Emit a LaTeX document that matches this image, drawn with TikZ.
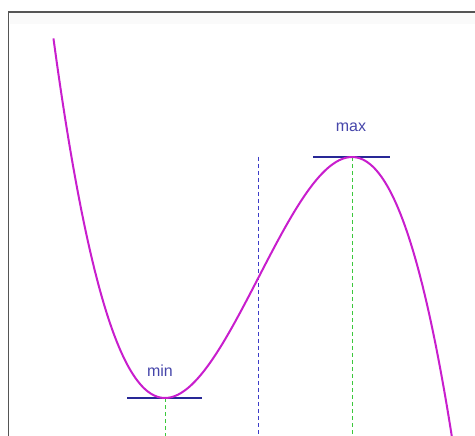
\documentclass[tikz,border=0pt]{standalone}
\usepackage{fontspec}
\setmainfont{Liberation Sans}
\definecolor{curvecol}{RGB}{200,30,205}
\definecolor{tancol}{RGB}{40,40,150}
\definecolor{labcol}{RGB}{70,70,170}
\definecolor{greendash}{RGB}{60,200,60}
\definecolor{bluedash}{RGB}{60,60,200}
\definecolor{framecol}{RGB}{85,85,85}
\tikzset{
  curveline/.style={curvecol, line width=2pt},
  tangent/.style={tancol, line width=1.3pt},
  greenguide/.style={greendash, line width=0.9pt, dash pattern=on 4pt off 3pt},
  blueguide/.style={bluedash, line width=0.9pt, dash pattern=on 4pt off 3pt},
  lab/.style={labcol, font=\fontsize{16}{18}\selectfont, inner sep=0pt},
}
\begin{document}
\begin{tikzpicture}[x=1pt,y=-1pt]
\useasboundingbox (0,0) rectangle (475,436);
% frame
\fill[black!2] (9.5,12.5) rectangle (475,24);
\draw[framecol, line width=1.3pt] (8.5,436) -- (8.5,12) -- (475,12);
% key points
\coordinate (minpt) at (165,398);
\coordinate (maxpt) at (352,157);
\coordinate (infl) at (258.5,277.5);
\coordinate (minbot) at (165,436);
\coordinate (maxbot) at (352,436);
\coordinate (infltop) at (258.5,157);
\coordinate (inflbot) at (258.5,436);
\coordinate (minL) at (127,398);
\coordinate (minR) at (202,398);
\coordinate (maxL) at (313,157);
\coordinate (maxR) at (390,157);
% guides
\draw[greenguide] (minpt) -- (minbot);
\draw[greenguide] (maxpt) -- (maxbot);
\draw[blueguide] (infltop) -- (inflbot);
% tangents
\draw[tangent] (minL) -- (minR);
\draw[tangent] (maxL) -- (maxR);
% curve
\begin{scope}
\clip (9,12) rectangle (475,436);
\draw[curveline, smooth, samples=120, domain=-2.193:2.09]
  plot ({258.5+93.5*\x},{277.5-60.25*(3*\x-\x*\x*\x)});
\end{scope}
% labels
\node[lab] (minlab) at (160,371) {min};
\node[lab] (maxlab) at (351,127) {max};
\end{tikzpicture}
\end{document}
